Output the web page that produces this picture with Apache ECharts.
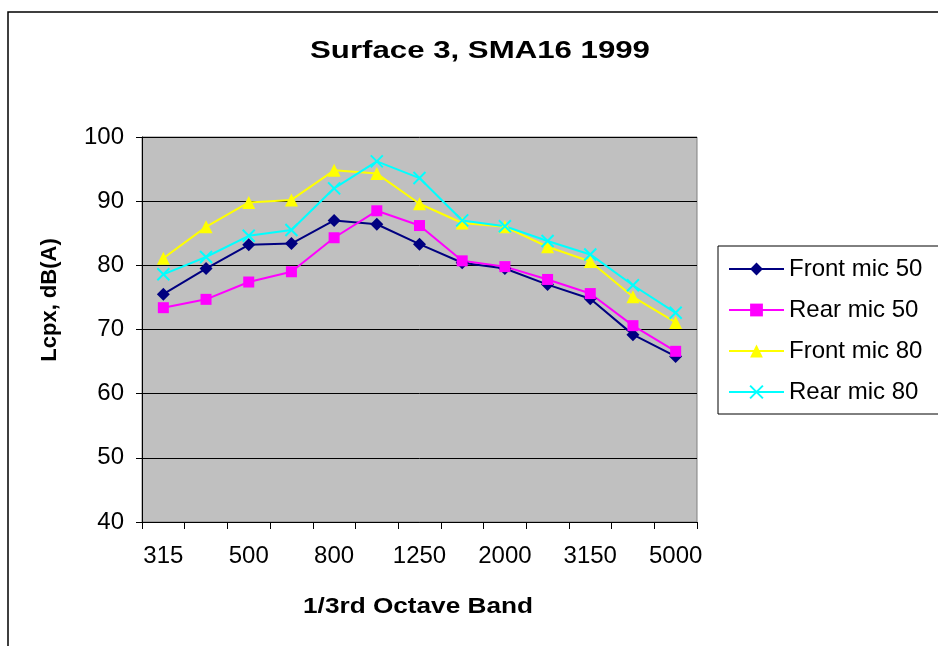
<!DOCTYPE html>
<html>
<head>
<meta charset="utf-8">
<script src="https://cdn.jsdelivr.net/npm/echarts@6/dist/echarts.min.js"></script>
<style>html,body{margin:0;padding:0;background:#fff}#chart{width:938px;height:646px}</style>
</head>
<body>
<div id="chart"></div>
<script>
var categories = ['315','400','500','630','800','1000','1250','1600','2000','2500','3150','4000','5000'];
var frontMic50 = [75.5, 79.5, 83.2, 83.4, 87.0, 86.4, 83.3, 80.4, 79.5, 77.0, 74.8, 69.2, 65.8];
var rearMic50  = [73.4, 74.7, 77.4, 79.0, 84.3, 88.5, 86.2, 80.7, 79.8, 77.8, 75.6, 70.6, 66.6];
var frontMic80 = [81.1, 86.0, 89.8, 90.2, 94.8, 94.3, 89.6, 86.6, 86.0, 82.9, 80.6, 75.1, 71.1];
var rearMic80  = [78.6, 81.3, 84.6, 85.5, 92.0, 96.2, 93.6, 87.0, 86.1, 83.8, 81.7, 76.9, 72.6];
var seriesNames = ['Front mic 50', 'Rear mic 50', 'Front mic 80', 'Rear mic 80'];
var titleText = 'Surface 3, SMA16 1999';
var xName = '1/3rd Octave Band';
var yName = 'Lcpx, dB(A)';

var FONT = '"Liberation Sans", Arial, sans-serif';
var chart = echarts.init(document.getElementById('chart'), null, {renderer: 'canvas'});

function mkSeries(name, data, color, symbol, size, extra) {
  var s = {
    name: name, type: 'line', data: data,
    symbol: symbol, symbolSize: size, showSymbol: true,
    lineStyle: {color: color, width: 2},
    itemStyle: {color: color},
    emphasis: {disabled: true},
    animation: false
  };
  if (extra) { s.itemStyle = Object.assign(s.itemStyle, extra); }
  return s;
}

var option = {
  animation: false,
  backgroundColor: '#ffffff',
  textStyle: {fontFamily: FONT},
  grid: {
    left: 142, right: 241, top: 137, bottom: 124,
    show: true, backgroundColor: '#C0C0C0', borderColor: '#808080', borderWidth: 1,
    containLabel: false, outerBoundsMode: 'none'
  },
  legend: {
    orient: 'vertical',
    left: 718, top: 246,
    padding: [11, 20, 10, 10],
    itemWidth: 55, itemHeight: 16, itemGap: 17,
    borderColor: '#000', borderWidth: 1, backgroundColor: '#fff',
    textStyle: {fontSize: 24, color: '#000', fontFamily: FONT, lineHeight: 24},
    data: seriesNames
  },
  xAxis: {
    type: 'category', data: categories, boundaryGap: true,
    axisLine: {show: true, lineStyle: {color: '#000', width: 1}},
    axisTick: {show: true, length: 7, interval: 0, alignWithLabel: false, lineStyle: {color: '#000'}},
    axisLabel: {interval: 1, fontSize: 24, color: '#000', margin: 22, fontFamily: FONT},
    splitLine: {show: false}
  },
  yAxis: {
    type: 'value', min: 40, max: 100, interval: 10,
    axisLine: {show: true, lineStyle: {color: '#000', width: 1}},
    axisTick: {show: true, length: 6, lineStyle: {color: '#000'}},
    axisLabel: {fontSize: 24, color: '#000', margin: 18, fontFamily: FONT},
    splitLine: {show: true, lineStyle: {color: '#000', width: 1}}
  },
  graphic: [
    {type: 'rect', silent: true, z: 100, shape: {x: 8, y: 12, width: 1000, height: 700},
     style: {fill: 'none', stroke: '#000', lineWidth: 1.5}},
    {type: 'text', x: 480, y: 51, scaleX: 1.3, z: 100,
     style: {text: titleText, font: 'bold 24px ' + FONT, textAlign: 'center', textVerticalAlign: 'middle', fill: '#000'}},
    {type: 'text', x: 418, y: 607, scaleX: 1.19, z: 100,
     style: {text: xName, font: 'bold 22px ' + FONT, textAlign: 'center', textVerticalAlign: 'middle', fill: '#000'}},
    {type: 'text', x: 50, y: 300, rotation: Math.PI / 2, z: 100,
     style: {text: yName, font: 'bold 22px ' + FONT, textAlign: 'center', textVerticalAlign: 'middle', fill: '#000'}}
  ],
  series: [
    mkSeries(seriesNames[0], frontMic50, '#000080', 'diamond', 13),
    mkSeries(seriesNames[1], rearMic50, '#FF00FF', 'rect', 11),
    mkSeries(seriesNames[2], frontMic80, '#FFFF00', 'triangle', 13),
    mkSeries(seriesNames[3], rearMic80, '#00FFFF', 'path://M0,0L10,10M10,0L0,10', 12,
             {borderColor: '#00FFFF', borderWidth: 2})
  ]
};
chart.setOption(option);
</script>
</body>
</html>
